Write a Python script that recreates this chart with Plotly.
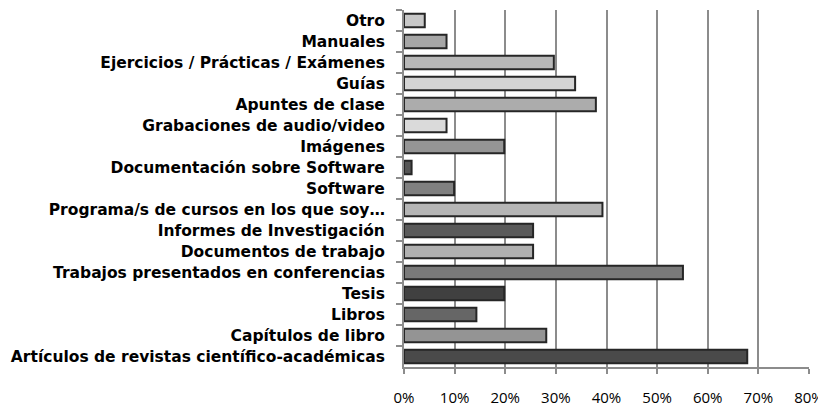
import plotly.graph_objects as go

categories = [
    "Otro",
    "Manuales",
    "Ejercicios / Prácticas / Exámenes",
    "Guías",
    "Apuntes de clase",
    "Grabaciones de audio/video",
    "Imágenes",
    "Documentación sobre Software",
    "Software",
    "Programa/s de cursos en los que soy…",
    "Informes de Investigación",
    "Documentos de trabajo",
    "Trabajos presentados en conferencias",
    "Tesis",
    "Libros",
    "Capítulos de libro",
    "Artículos de revistas científico-académicas",
]
values = [0.041, 0.084, 0.296, 0.338, 0.379, 0.084, 0.198, 0.015, 0.099,
          0.392, 0.255, 0.255, 0.551, 0.198, 0.143, 0.281, 0.678]
bar_colors = ["#c8c8c8", "#a6a6a6", "#b8b8b8", "#d4d4d4", "#acacac", "#dadada",
              "#959595", "#555555", "#808080", "#b5b5b5", "#5a5a5a", "#b0b0b0",
              "#7a7a7a", "#404040", "#666666", "#949494", "#4a4a4a"]
x_ticks = [0, 0.1, 0.2, 0.3, 0.4, 0.5, 0.6, 0.7, 0.8]

fig = go.Figure(go.Bar(
    x=values, y=categories, orientation="h",
    marker=dict(color=bar_colors, line=dict(color="#262626", width=2)),
    width=0.65,
))

fig.update_layout(
    width=818, height=401,
    margin=dict(l=396, r=11, t=2, b=33),
    paper_bgcolor="white", plot_bgcolor="white",
    showlegend=False,
    font=dict(family="Open Sans", color="black"),
    xaxis=dict(
        range=[0, 0.8], tickvals=x_ticks, tickformat=".0%",
        showgrid=True, gridcolor="#8c8c8c", gridwidth=1.8,
        showline=True, linecolor="#8c8c8c", linewidth=2,
        ticks="outside", ticklen=5, tickcolor="#8c8c8c", tickwidth=2,
        tickfont=dict(size=15, family="Open Sans"),
        ticklabelstandoff=11, ticklabeloverflow="allow",
        zeroline=False, fixedrange=True,
    ),
    yaxis=dict(
        autorange="reversed",
        showline=True, linecolor="#8c8c8c", linewidth=2,
        ticks="outside", ticklen=6, tickcolor="#8c8c8c", tickwidth=2,
        tickson="boundaries",
        tickfont=dict(size=15.5, family="DejaVu Sans", weight="bold"),
        ticklabelstandoff=14,
        showgrid=False, fixedrange=True,
    ),
)

fig.write_html("out.html")
